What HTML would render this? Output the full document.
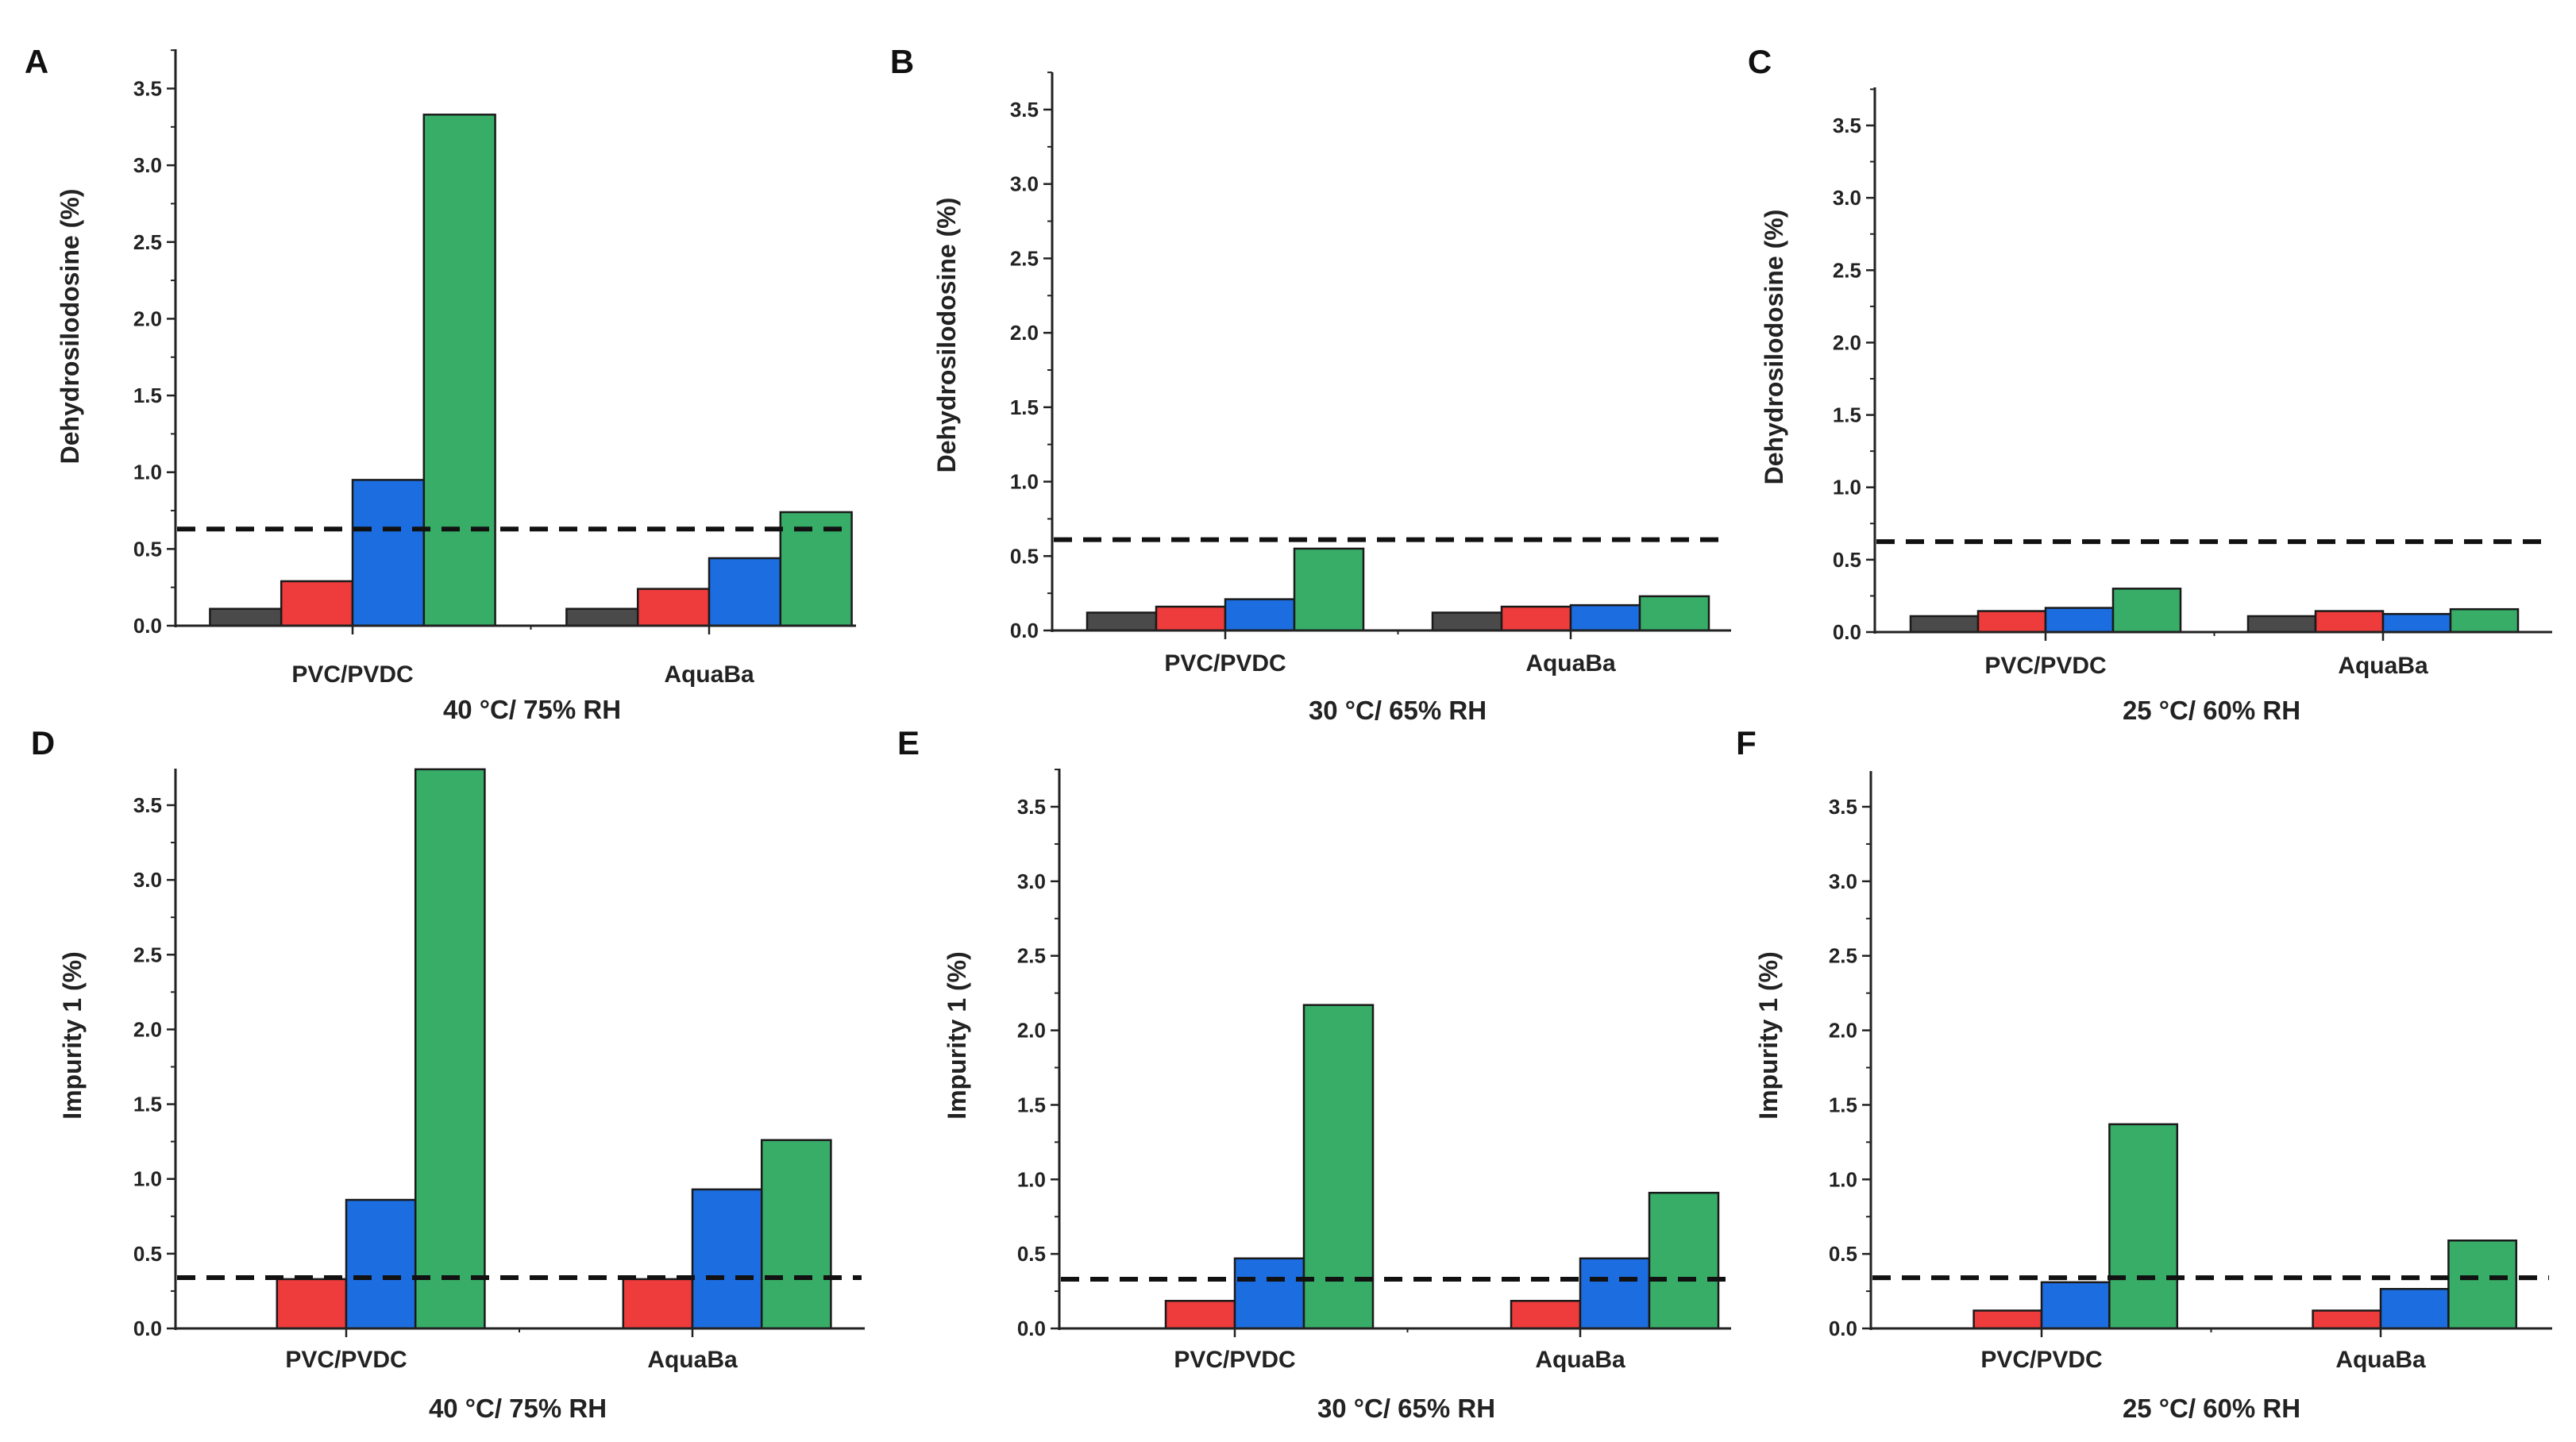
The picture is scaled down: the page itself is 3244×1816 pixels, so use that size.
<!DOCTYPE html>
<html><head><meta charset="utf-8"><style>
html,body{margin:0;padding:0;background:#fff;}
svg{display:block;font-family:"Liberation Sans",Arial,sans-serif;font-weight:bold;}
</style></head><body>
<svg id="fig" width="3244" height="1816" viewBox="0 0 3244 1816" xmlns="http://www.w3.org/2000/svg"></svg>
<script>
// ---- data ----
const categories = ["PVC/PVDC", "AquaBa"];
const seriesNames = ["initial", "1 month", "3 months", "6 months"];
const seriesColors = ["#4a4a4a", "#ee3b3b", "#1c6de0", "#37ad68"];
const yTicks = [0.0, 0.5, 1.0, 1.5, 2.0, 2.5, 3.0, 3.5];
const yTickLabels = ["0.0", "0.5", "1.0", "1.5", "2.0", "2.5", "3.0", "3.5"];
const valsA = [[0.11, 0.11], [0.29, 0.24], [0.95, 0.44], [3.33, 0.74]];
const valsB = [[0.12, 0.12], [0.16, 0.16], [0.21, 0.17], [0.55, 0.23]];
const valsC = [[0.11, 0.11], [0.145, 0.145], [0.167, 0.125], [0.30, 0.158]];
const valsD = [[0, 0], [0.33, 0.33], [0.86, 0.93], [3.74, 1.26]];
const valsE = [[0, 0], [0.185, 0.185], [0.47, 0.47], [2.17, 0.91]];
const valsF = [[0, 0], [0.12, 0.12], [0.31, 0.265], [1.37, 0.59]];
const limits = [0.63, 0.61, 0.625, 0.34, 0.33, 0.34];
const yLabels = ["Dehydrosilodosine (%)", "Dehydrosilodosine (%)", "Dehydrosilodosine (%)", "Impurity 1 (%)", "Impurity 1 (%)", "Impurity 1 (%)"];
const conditions = ["40 °C/ 75% RH", "30 °C/ 65% RH", "25 °C/ 60% RH", "40 °C/ 75% RH", "30 °C/ 65% RH", "25 °C/ 60% RH"];
const panelLetters = ["A", "B", "C", "D", "E", "F"];

// ---- layout (pixel geometry, not data) ----
const panels = [
 {vals: valsA, ax:221, y0:788, y35:111.5, top:62, right:1078, c1:444, c2:893, lx:46, ly:92, ylx:88, yly:411, tx:670, catY:859, titleY:905},
 {vals: valsB, ax:1325, y0:794, y35:138, top:91, right:2180, c1:1543, c2:1978, lx:1136, ly:92, ylx:1192, yly:422, tx:1760, catY:845, titleY:906},
 {vals: valsC, ax:2361, y0:796, y35:158, top:110, right:3214, c1:2576, c2:3001, lx:2216, ly:92, ylx:2234, yly:437, tx:2785, catY:848, titleY:906},
 {vals: valsD, ax:221, y0:1673, y35:1014, top:968, right:1089, c1:436, c2:872, lx:54, ly:950, ylx:91, yly:1304, tx:652, catY:1722, titleY:1785},
 {vals: valsE, ax:1334, y0:1673, y35:1016, top:968, right:2180, c1:1555, c2:1990, lx:1144, ly:950, ylx:1205, yly:1304, tx:1771, catY:1722, titleY:1785},
 {vals: valsF, ax:2356, y0:1673, y35:1016, top:971, right:3214, c1:2571, c2:2998, lx:2199, ly:950, ylx:2227, yly:1304, tx:2785, catY:1722, titleY:1785}
];

const NS = "http://www.w3.org/2000/svg";
const svg = document.getElementById("fig");
function mk(tag, attrs, parent) {
  const e = document.createElementNS(NS, tag);
  for (const k in attrs) e.setAttribute(k, attrs[k]);
  (parent || svg).appendChild(e);
  return e;
}

panels.forEach((p, pi) => {
  const g = mk("g", {});
  
  
  const yS = v => p.y0 - v * (p.y0 - p.y35) / 3.5;
  const spacing = p.c2 - p.c1;
  const xS = i => p.c1 + i * spacing;
  const bw = spacing * 0.2;

  p.vals.forEach((sv, si) => {
    sv.forEach((v, ci) => {
      if (v <= 0) return;
      const x = xS(ci) + (si - 2) * bw;
      const r = mk("rect", {x: x, y: yS(v), width: bw, height: p.y0 - yS(v), fill: seriesColors[si], stroke: "#1a1a1a", "stroke-width": 2.5}, g);
      
      
    });
  });

  const dl = mk("line", {x1: p.ax + 2, x2: p.right - 4, y1: yS(limits[pi]), y2: yS(limits[pi]), stroke: "#111", "stroke-width": 6, "stroke-dasharray": "23 14"}, g);
  
  

  const ya = mk("line", {x1: p.ax, x2: p.ax, y1: p.top, y2: p.y0 + 2, stroke: "#222", "stroke-width": 3}, g);
  
  
  const xa = mk("line", {x1: p.ax - 1, x2: p.right, y1: p.y0, y2: p.y0, stroke: "#222", "stroke-width": 3}, g);
  
  

  yTicks.forEach((t, ti) => {
    mk("line", {x1: p.ax - 11, x2: p.ax, y1: yS(t), y2: yS(t), stroke: "#222", "stroke-width": 2.5}, g);
    const mt = t + 0.25;
    if (yS(mt) > p.top) mk("line", {x1: p.ax - 6, x2: p.ax, y1: yS(mt), y2: yS(mt), stroke: "#222", "stroke-width": 2}, g);
    const tl = mk("text", {x: p.ax - 17, y: yS(t) + 9, "text-anchor": "end", "font-size": 26, fill: "#222"}, g);
    tl.textContent = yTickLabels[ti];
    
    
  });

  categories.forEach((c, ci) => {
    mk("line", {x1: xS(ci), x2: xS(ci), y1: p.y0, y2: p.y0 + 11, stroke: "#222", "stroke-width": 2.5}, g);
    const cl = mk("text", {x: xS(ci), y: p.catY, "text-anchor": "middle", "font-size": 30, fill: "#222"}, g);
    cl.textContent = c;
    
    
  });
  mk("line", {x1: xS(0.5), x2: xS(0.5), y1: p.y0, y2: p.y0 + 5, stroke: "#222", "stroke-width": 2}, g);

  const yl = mk("text", {x: 0, y: 0, transform: "translate(" + (p.ylx + 11) + "," + p.yly + ") rotate(-90)", "text-anchor": "middle", "font-size": 32, fill: "#222"}, g);
  yl.textContent = yLabels[pi];
  
  

  const tt = mk("text", {x: p.tx, y: p.titleY, "text-anchor": "middle", "font-size": 33, fill: "#222"}, g);
  tt.textContent = conditions[pi];
  
  

  const pl = mk("text", {x: p.lx, y: p.ly, "text-anchor": "middle", "font-size": 42, fill: "#111"}, g);
  pl.textContent = panelLetters[pi];
  
  
});
</script>
</body></html>
